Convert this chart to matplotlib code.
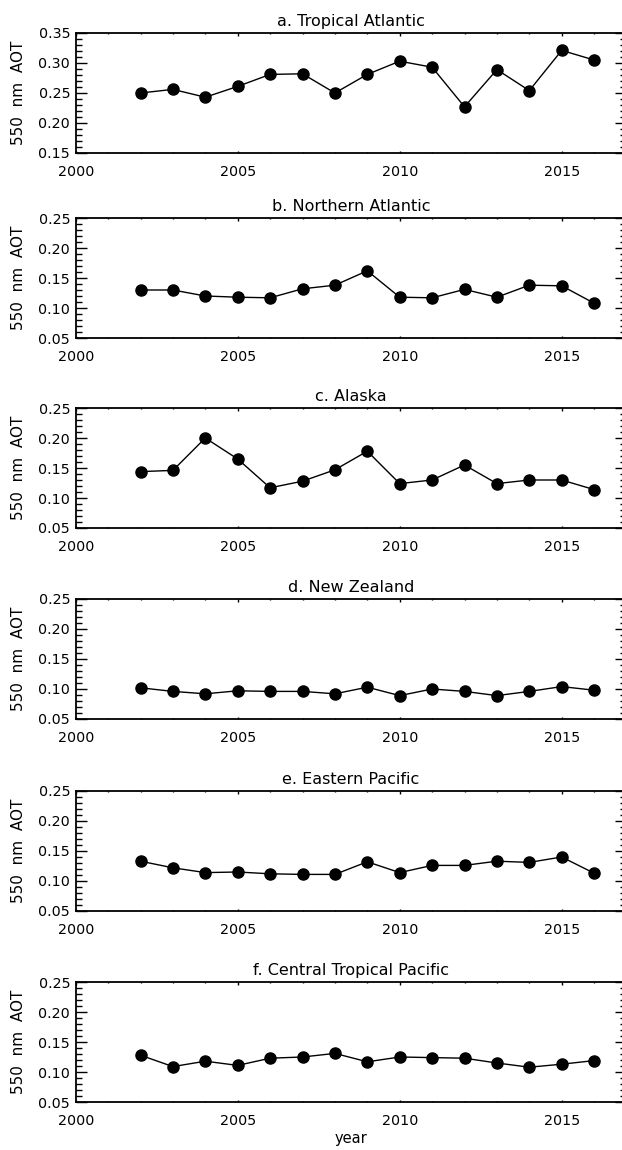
import matplotlib
matplotlib.use('Agg')
import matplotlib.pyplot as plt
from matplotlib.ticker import MultipleLocator, FormatStrFormatter

years = list(range(2002, 2017))

titles = ['a. Tropical Atlantic', 'b. Northern Atlantic', 'c. Alaska',
          'd. New Zealand', 'e. Eastern Pacific', 'f. Central Tropical Pacific']

tropical_atlantic = [0.250, 0.256, 0.243, 0.261, 0.281, 0.282, 0.250, 0.281,
                     0.303, 0.293, 0.227, 0.289, 0.254, 0.321, 0.305]
northern_atlantic = [0.130, 0.130, 0.120, 0.118, 0.117, 0.132, 0.138, 0.162,
                     0.118, 0.117, 0.131, 0.118, 0.138, 0.137, 0.108]
alaska = [0.144, 0.146, 0.200, 0.165, 0.117, 0.128, 0.147, 0.178,
          0.124, 0.130, 0.155, 0.124, 0.130, 0.130, 0.114]
new_zealand = [0.102, 0.096, 0.092, 0.097, 0.096, 0.096, 0.092, 0.103,
               0.089, 0.100, 0.096, 0.089, 0.096, 0.104, 0.098]
eastern_pacific = [0.133, 0.122, 0.114, 0.115, 0.112, 0.111, 0.111, 0.132,
                   0.114, 0.126, 0.126, 0.133, 0.131, 0.140, 0.113]
central_tropical_pacific = [0.128, 0.109, 0.118, 0.111, 0.123, 0.125, 0.131, 0.117,
                            0.125, 0.124, 0.123, 0.115, 0.108, 0.113, 0.119]

series = [tropical_atlantic, northern_atlantic, alaska,
          new_zealand, eastern_pacific, central_tropical_pacific]
yranges = [(0.15, 0.35)] + [(0.05, 0.25)] * 5

W, H = 622, 1150
panel_tops = [33, 218, 408, 599, 791, 982]   # pixel rows of each plot's top edge
panel_h = 120
x_left = 75.7
px_per_year = 32.4

fig = plt.figure(figsize=(W / 100, H / 100), dpi=100)

for top, title, vals, yr in zip(panel_tops, titles, series, yranges):
    ax = fig.add_axes([x_left / W, 1 - (top + panel_h) / H,
                       17 * px_per_year / W, panel_h / H])
    ax.plot(years, vals, color='black', lw=1.0, marker='o', ms=8,
            mfc='black', mec='black')
    ax.set_xlim(2000, 2017)
    ax.set_ylim(*yr)
    ax.xaxis.set_major_locator(MultipleLocator(5))
    ax.xaxis.set_minor_locator(MultipleLocator(1))
    ax.yaxis.set_major_locator(MultipleLocator(0.05))
    ax.yaxis.set_minor_locator(MultipleLocator(0.01))
    ax.yaxis.set_major_formatter(FormatStrFormatter('%.2f'))
    ax.tick_params(which='both', direction='in', top=True, right=True,
                   color='black', width=1.0, labelsize=10.3)
    ax.tick_params(axis='y', which='major', length=8, pad=4)
    ax.tick_params(axis='y', which='minor', length=4)
    ax.tick_params(axis='x', which='major', length=1.8, pad=8.5)
    ax.tick_params(axis='x', which='minor', length=0.9)
    for sp in ax.spines.values():
        sp.set_linewidth(1.3)
    ax.set_title(title, fontsize=11.5, pad=5)
    fig.text(19 / W, 1 - (top + panel_h / 2) / H, '550  nm  AOT',
             rotation=90, ha='center', va='center', fontsize=11)

fig.text((x_left + 17 * px_per_year / 2) / W, 1 - 1139 / H, 'year',
         ha='center', va='center', fontsize=10.5)

fig.savefig('out.png', dpi=100)
